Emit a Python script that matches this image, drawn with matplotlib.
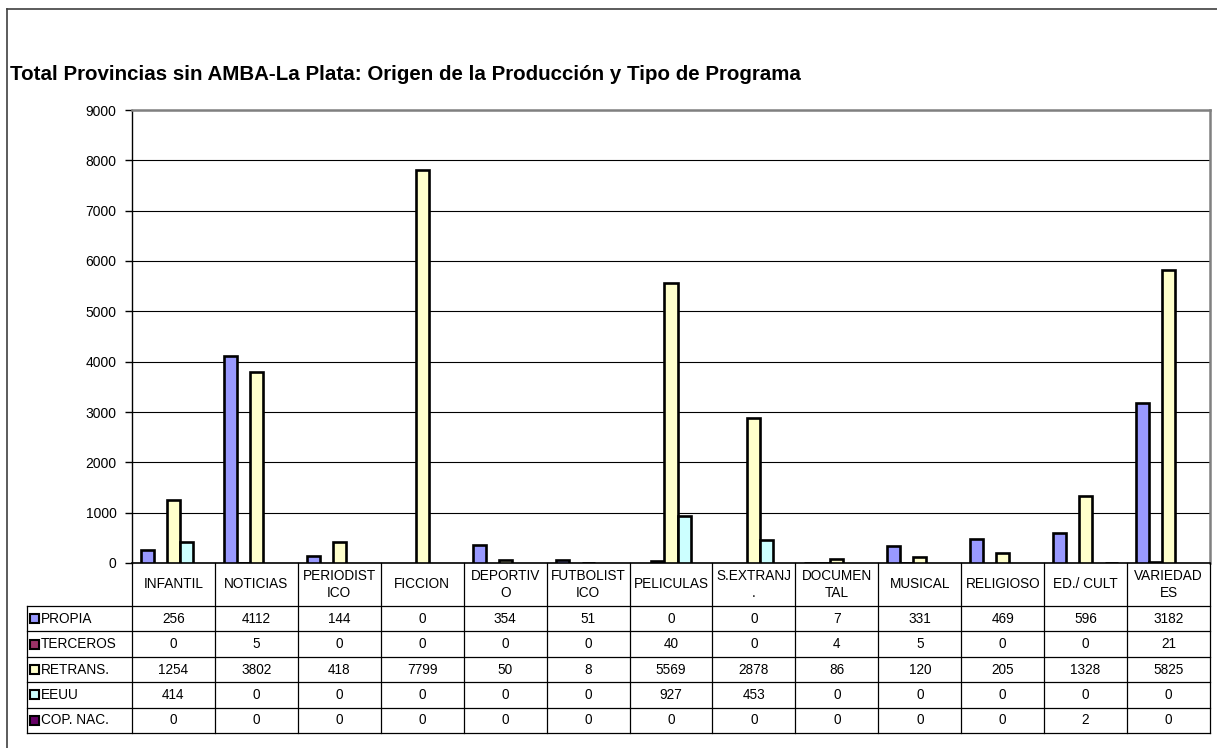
import numpy as np
import matplotlib.pyplot as plt
from matplotlib.lines import Line2D
from matplotlib.patches import Rectangle

plt.rcParams['font.family'] = ['Liberation Sans', 'DejaVu Sans']

# Programme types (table header) and series by production origin
categorias = ['INFANTIL', 'NOTICIAS', 'PERIODIST\nICO', 'FICCION', 'DEPORTIV\nO',
              'FUTBOLIST\nICO', 'PELICULAS', 'S.EXTRANJ\n.', 'DOCUMEN\nTAL',
              'MUSICAL', 'RELIGIOSO', 'ED./ CULT', 'VARIEDAD\nES']
series = ['PROPIA', 'TERCEROS', 'RETRANS.', 'EEUU', 'COP. NAC.']
propia = [256, 4112, 144, 0, 354, 51, 0, 0, 7, 331, 469, 596, 3182]
terceros = [0, 5, 0, 0, 0, 0, 40, 0, 4, 5, 0, 0, 21]
retrans = [1254, 3802, 418, 7799, 50, 8, 5569, 2878, 86, 120, 205, 1328, 5825]
eeuu = [414, 0, 0, 0, 0, 0, 927, 453, 0, 0, 0, 0, 0]
cop_nac = [0, 0, 0, 0, 0, 0, 0, 0, 0, 0, 0, 2, 0]
colores = ['#9999FF', '#993366', '#FFFFCC', '#CCFFFF', '#660066']

valores = [propia, terceros, retrans, eeuu, cop_nac]

W, H = 1217, 748
fig = plt.figure(figsize=(W / 100, H / 100), dpi=100)

# plot area in pixels
px_l, px_r, px_t, px_b = 132, 1210, 110, 563
def fx(px):
    return px / W
def fy(py):
    return 1 - py / H

ax = fig.add_axes([fx(px_l), fy(px_b), fx(px_r) - fx(px_l), fy(px_t) - fy(px_b)])

n = len(categorias)
x = np.arange(n)
ancho = 0.157
for i, (vals, col) in enumerate(zip(valores, colores)):
    vals = np.array(vals)
    lw = np.where(vals > 0, 1.9, 0.0)  # Excel leaves zero bars out
    ax.bar(x + (i - 2) * ancho, vals, width=ancho, color=col,
           edgecolor='black', linewidth=lw, zorder=3)

ax.set_xlim(-0.5, n - 0.5)
ax.set_ylim(0, 9000)
ax.set_yticks(np.arange(0, 9001, 1000))
ax.set_xticks([])
ax.tick_params(axis='y', labelsize=10, length=5, width=1, direction='out', pad=6)
ax.yaxis.grid(True, color='black', linewidth=0.8, zorder=0)
ax.spines['top'].set_color('#808080')
ax.spines['right'].set_color('#808080')
ax.spines['top'].set_linewidth(1.8)
ax.spines['right'].set_linewidth(1.8)
ax.spines['left'].set_linewidth(1.0)
ax.spines['bottom'].set_linewidth(1.2)

fig.text(fx(10), fy(75), 'Total Provincias sin AMBA-La Plata: Origen de la Producción y Tipo de Programa',
         fontsize=14.8, fontweight='bold', ha='left', va='center')

# outer frame (top and left edge)
fig.add_artist(Line2D([fx(7), fx(7)], [fy(9), 0], transform=fig.transFigure, color='#404040', lw=1.2))
fig.add_artist(Line2D([fx(7), 1], [fy(9), fy(9)], transform=fig.transFigure, color='#404040', lw=1.2))

# data table under the axis
col_w = (px_r - px_l) / n
hdr_b = 606
row_h = 25.4
tab_l = 27
filas = [hdr_b + row_h * k for k in range(len(series) + 1)]

def linea(x0, x1, y0, y1):
    fig.add_artist(Line2D([fx(x0), fx(x1)], [fy(y0), fy(y1)], transform=fig.transFigure,
                          color='black', lw=0.9))

for k in range(n + 1):
    xc = px_l + k * col_w
    linea(xc, xc, px_b, filas[-1])
linea(tab_l, tab_l, hdr_b, filas[-1])
for yr in filas:
    linea(tab_l, px_r, yr, yr)

for j, cat in enumerate(categorias):
    xc = px_l + (j + 0.5) * col_w
    fig.text(fx(xc), fy((px_b + hdr_b) / 2), cat, ha='center', va='center',
             fontsize=9.8, linespacing=1.3)

for i, (nombre, vals, col) in enumerate(zip(series, valores, colores)):
    yc = (filas[i] + filas[i + 1]) / 2
    fig.add_artist(Rectangle((fx(30), fy(yc + 4.5)), fx(9), 9 / H, transform=fig.transFigure,
                             facecolor=col, edgecolor='black', lw=1.5))
    fig.text(fx(41), fy(yc), nombre, ha='left', va='center', fontsize=9.8)
    for j, v in enumerate(vals):
        xc = px_l + (j + 0.5) * col_w
        fig.text(fx(xc), fy(yc), str(v), ha='center', va='center', fontsize=9.8)

fig.savefig('out.png', dpi=100, facecolor='white')
